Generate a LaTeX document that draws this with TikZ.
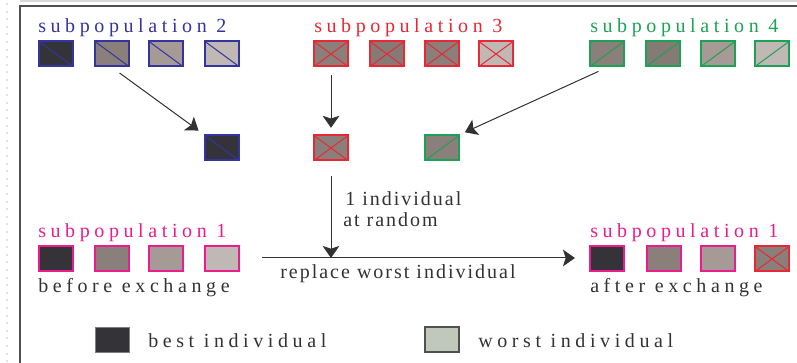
\documentclass[tikz,border=0pt]{standalone}
\usepackage{fontspec}
\usetikzlibrary{arrows.meta}
\newfontfamily\labelfont[LetterSpace=23]{Liberation Serif}
\newfontfamily\notefont[LetterSpace=10]{Liberation Serif}

\definecolor{subblue}{RGB}{52,52,160}
\definecolor{subred}{RGB}{232,40,52}
\definecolor{subgreen}{RGB}{28,162,84}
\definecolor{submagenta}{RGB}{236,28,140}
\definecolor{cellbest}{RGB}{52,51,56}
\definecolor{cellmid}{RGB}{138,127,122}
\definecolor{celldeep}{RGB}{133,122,118}
\definecolor{cellpale}{RGB}{165,154,150}
\definecolor{cellworst}{RGB}{192,184,181}
\definecolor{legendworst}{RGB}{192,200,188}
\definecolor{framegray}{RGB}{80,80,80}
\definecolor{arrowgray}{RGB}{50,50,50}

\tikzset{
  indiv/.style={draw, line width=1.5pt, minimum width=25.5pt, minimum height=18.75pt, inner sep=0pt},
  % the four subpopulations differ by border colour and cross mark
  blueind/.style={indiv, draw=subblue, fill=#1,
    path picture={\draw[subblue, line width=0.75pt] (path picture bounding box.north west) -- (path picture bounding box.south east);}},
  redind/.style={indiv, draw=subred, fill=#1,
    path picture={\draw[subred, line width=0.75pt] (path picture bounding box.north west) -- (path picture bounding box.south east)
      (path picture bounding box.south west) -- (path picture bounding box.north east);}},
  greenind/.style={indiv, draw=subgreen, fill=#1,
    path picture={\draw[subgreen, line width=0.75pt] (path picture bounding box.south west) -- (path picture bounding box.north east);}},
  pinkind/.style={indiv, draw=submagenta, fill=#1},
  title/.style={font=\labelfont\fontsize{15}{18}\selectfont, anchor=base west, inner sep=0pt},
  note/.style={font=\notefont\fontsize{15}{18}\selectfont, anchor=base west, inner sep=0pt, text=arrowgray},
  move/.style={arrowgray, line width=0.75pt, -{Stealth[length=9pt, width=12.5pt, inset=2pt]}},
}

\begin{document}
\begin{tikzpicture}[x=0.75pt, y=-0.75pt]
    \useasboundingbox (0,0) rectangle (797,363);

    % slide frame and its striped margin
    \draw[gray!22, line width=1.5pt, dash pattern=on 1.5pt off 4.2pt] (6.5,3) -- (6.5,363);
    \draw[gray!30, line width=1.5pt] (19.5,1.5) -- (797,1.5);
    \draw[framegray, line width=1.5pt] (19.5,363) -- (19.5,6) -- (797,6);

    \node[title, text=subblue] (t2) at (38, 33) {subpopulation 2};
    \node[title, text=subred] (t3) at (314, 33) {subpopulation 3};
    \node[title, text=subgreen] (t4) at (590, 33) {subpopulation 4};

    \node[blueind=cellbest] (b1) at (56, 54) {};
    \node[blueind=cellmid] (b2) at (112, 54) {};
    \node[blueind=cellpale] (b3) at (166, 54) {};
    \node[blueind=cellworst] (b4) at (222, 54) {};

    \node[redind=cellmid] (r1) at (331, 54) {};
    \node[redind=celldeep] (r2) at (387, 54) {};
    \node[redind=cellmid] (r3) at (442, 54) {};
    \node[redind=cellworst] (r4) at (496, 54) {};

    \node[greenind=cellmid] (g1) at (607, 54) {};
    \node[greenind=celldeep] (g2) at (663, 54) {};
    \node[greenind=cellpale] (g3) at (718, 54) {};
    \node[greenind=cellworst] (g4) at (772, 54) {};

    % one migrant taken from each subpopulation
    \node[blueind=cellbest] (mb) at (222, 148) {};
    \node[redind=cellmid] (mr) at (331, 148) {};
    \node[greenind=cellmid] (mg) at (442, 148) {};

    \draw[move, shorten <=7pt, shorten >=5pt] (b2.south) -- (mb.north west);
    \draw[move, shorten <=6pt, shorten >=5pt] (r1.south) -- (mr.north);
    \draw[move, shorten <=7pt, shorten >=4pt] (g1.south) -- (mg.north east);

    \coordinate (from) at (262, 258);
    \coordinate (drop) at (331, 258);
    \coordinate (to) at (575, 258);
    \draw[move] (mr.south) ++(0,15) -- (drop);
    \draw[move] (from) -- (to);

    \node[note] (pick) at (345, 206) {1 individual};
    \node[note] (rand) at (343, 227) {at random};
    \node[note] (repl) at (280, 279) {replace worst individual};

    % subpopulation 1 before and after the exchange
    \node[title, text=submagenta] (t1) at (38, 238) {subpopulation 1};
    \node[pinkind=cellbest] (p1) at (56, 259) {};
    \node[pinkind=cellmid] (p2) at (112, 259) {};
    \node[pinkind=cellpale] (p3) at (166, 259) {};
    \node[pinkind=cellworst] (p4) at (222, 259) {};
    \node[title, text=arrowgray] (before) at (38, 293) {before exchange};

    \node[title, text=submagenta] (t1b) at (590, 238) {subpopulation 1};
    \node[pinkind=cellbest] (q1) at (607, 259) {};
    \node[pinkind=cellmid] (q2) at (664, 259) {};
    \node[pinkind=cellpale] (q3) at (718, 259) {};
    \node[redind=cellmid] (q4) at (772, 259) {};
    \node[title, text=arrowgray] (after) at (590, 293) {after exchange};

    % legend
    \node[indiv, draw=gray, line width=0.75pt, fill=cellbest] (best) at (112, 340) {};
    \node[title, text=arrowgray] (bestl) at (148, 348) {best individual};
    \node[indiv, draw=framegray, fill=legendworst] (worst) at (442, 340) {};
    \node[title, text=arrowgray] (worstl) at (478, 348) {worst individual};
\end{tikzpicture}
\end{document}
